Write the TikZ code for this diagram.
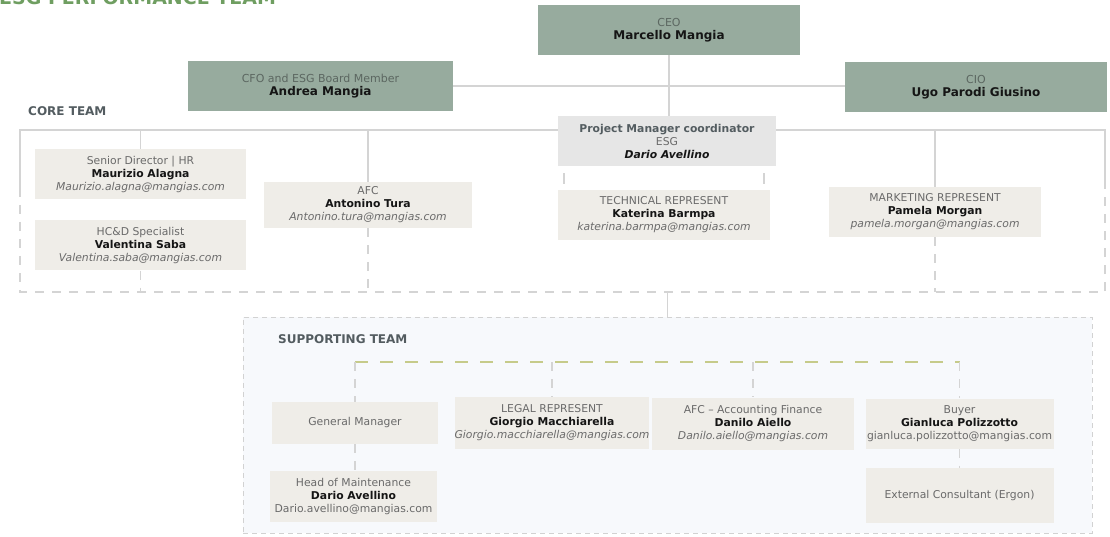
\documentclass[tikz,border=0pt]{standalone}
\usepackage{fontspec}
\setmainfont{DejaVu Sans}
\usepackage{tikz}
\usetikzlibrary{positioning, backgrounds}
\definecolor{sage}{HTML}{97AB9E}
\definecolor{boxbeige}{HTML}{EFEDE8}
\definecolor{pmgray}{HTML}{E6E6E6}
\definecolor{linegray}{HTML}{D4D4D4}
\definecolor{suppfill}{HTML}{F7F9FC}
\definecolor{olivedash}{HTML}{C6CB8A}
\definecolor{titlegreen}{HTML}{6F9E61}
\definecolor{labelgray}{HTML}{535C60}
\definecolor{rolegray}{HTML}{6A6A6A}
\definecolor{toprole}{HTML}{5C6761}
\definecolor{namegray}{HTML}{151515}

\newcommand{\orgentry}[3]{{\color{rolegray}#1}\\{\color{namegray}\bfseries #2}\\{\color{rolegray}\itshape #3}}
\newcommand{\orghead}[2]{{\color{toprole}\fontsize{11}{13}\selectfont#1}\\{\color{namegray}\fontsize{12}{14}\selectfont\bfseries #2}}

\begin{document}
\begin{tikzpicture}[x=1pt, y=-1pt, font=\fontsize{10.8}{13}\selectfont,
	every node/.style={align=center, inner sep=0pt},
	topbox/.style={fill=sage, minimum width=262pt, minimum height=50pt},
	corebox/.style={fill=boxbeige, minimum width=211pt, minimum height=50pt},
	suppbox/.style={fill=boxbeige, minimum width=188pt, minimum height=50pt},
	link/.style={draw=linegray, line width=1.6pt},
	dashlink/.style={draw=linegray, line width=1.4pt, dash pattern=on 9pt off 8pt},
	teamlabel/.style={anchor=west, text=labelgray, font=\fontsize{12}{14}\selectfont\bfseries}]
		\useasboundingbox (0,0) rectangle (1110,537);
		\clip (0,0) rectangle (1110,537);

		\node[anchor=base west, text=titlegreen, font=\fontsize{19}{21}\selectfont\bfseries] (0) at (-1,4.5) {ESG PERFORMANCE TEAM};

		\node[topbox] (1) at (669,30) {\orghead{CEO}{Marcello Mangia}};
		\node[topbox, minimum width=265pt] (2) at (320.5,86) {\orghead{CFO and ESG Board Member}{Andrea Mangia}};
		\node[topbox] (3) at (976,87) {\orghead{CIO}{Ugo Parodi Giusino}};

		\node[teamlabel] (t1) at (28,111) {CORE TEAM};
		\node[fill=pmgray, minimum width=218pt, minimum height=50pt] (4) at (667,141)
			{{\color{labelgray}\bfseries Project Manager coordinator}\\{\color{rolegray}ESG}\\{\color{namegray}\bfseries\itshape Dario Avellino}};
		\node[corebox] (5) at (140.5,174) {\orgentry{Senior Director | HR}{Maurizio Alagna}{Maurizio.alagna@mangias.com}};
		\node[corebox] (6) [below=21pt of 5] {\orgentry{HC\&D Specialist}{Valentina Saba}{Valentina.saba@mangias.com}};
		\node[corebox, minimum width=208pt, minimum height=46pt] (7) at (368,205) {\orgentry{AFC}{Antonino Tura}{Antonino.tura@mangias.com}};
		\node[corebox, minimum width=212pt] (8) at (664,215) {\orgentry{TECHNICAL REPRESENT}{Katerina Barmpa}{katerina.barmpa@mangias.com}};
		\node[corebox, minimum width=212pt] (9) at (935,212) {\orgentry{MARKETING REPRESENT}{Pamela Morgan}{pamela.morgan@mangias.com}};

		\coordinate (a) at (20,130);
		\coordinate (b) at (1105,130);
		\coordinate (c) at (20,292);
		\coordinate (d) at (1105,292);
		\coordinate (a2) at (20,188);
		\coordinate (b2) at (1105,188);

		\node[draw=linegray!85!black!60, line width=0.8pt, dash pattern=on 5pt off 4pt, minimum width=849pt, minimum height=216pt] (16) at (667.5,425) {};
		\node[teamlabel] (t2) at (278,339) {SUPPORTING TEAM};
		\node[suppbox, minimum width=166pt, minimum height=42pt] (10) at (355,423) {{\color{rolegray}General Manager}};
		\node[suppbox, minimum width=190pt, minimum height=52pt] (11) at (552,423) {\orgentry{LEGAL REPRESENT}{Giorgio Macchiarella}{Giorgio.macchiarella@mangias.com}};
		\node[suppbox, minimum width=202pt, minimum height=52pt] (12) at (753,423.5) {\orgentry{AFC -- Accounting Finance}{Danilo Aiello}{Danilo.aiello@mangias.com}};
		\node[suppbox, minimum height=50pt] (13) at (959.5,423.5) {{\color{rolegray}Buyer}\\{\color{namegray}\bfseries Gianluca Polizzotto}\\{\color{rolegray}gianluca.polizzotto@mangias.com}};
		\node[suppbox, minimum width=167pt, minimum height=51pt] (14) at (353.5,496.5) {{\color{rolegray}Head of Maintenance}\\{\color{namegray}\bfseries Dario Avellino}\\{\color{rolegray}Dario.avellino@mangias.com}};
		\node[suppbox, minimum height=55pt] (15) [below=19pt of 13] {{\color{rolegray}External Consultant (Ergon)}};
		\coordinate (g) at (0,362);

		\begin{scope}[on background layer]
			\fill[suppfill] (16.north west) rectangle (16.south east);
			\draw[link] (2.east) -- (2.east -| 3.west);
			\draw[link] (1.south) -- (1.south |- 4.north);
			\draw[link] (a2) -- (a) -- (b) -- (b2);
			\draw[dashlink] (a2) -- (c) -- (d) -- (b2);
			\draw[link] (5.north) -- (5.north |- a);
			\draw[link] (7.north) -- (7.north |- a);
			\draw[link] (9.north) -- (9.north |- a);
			\draw[dashlink] (6.south) -- (6.south |- c);
			\draw[dashlink] (7.south) -- (7.south |- c);
			\draw[dashlink] (9.south) -- (9.south |- c);
			\draw[link, shorten <=7pt, shorten >=6pt] ([xshift=6pt]4.south west) -- ([xshift=6pt]4.south west |- 8.north);
			\draw[link, shorten <=7pt, shorten >=6pt] ([xshift=-12pt]4.south east) -- ([xshift=-12pt]4.south east |- 8.north);
			\draw[link, line width=1pt] (16.north |- c) -- (16.north);
			\draw[draw=olivedash, line width=2.6pt, dash pattern=on 13pt off 12pt] (10.north |- g) -- (13.north |- g);
			\draw[dashlink] (10.north |- g) -- (10.north);
			\draw[dashlink] (11.north |- g) -- (11.north);
			\draw[dashlink] (12.north |- g) -- (12.north);
			\draw[dashlink] (13.north |- g) -- (13.north);
			\draw[dashlink] (10.south) -- (10.south |- 14.north);
			\draw[dashlink] (13.south) -- (15.north);
		\end{scope}
\end{tikzpicture}
\end{document}
